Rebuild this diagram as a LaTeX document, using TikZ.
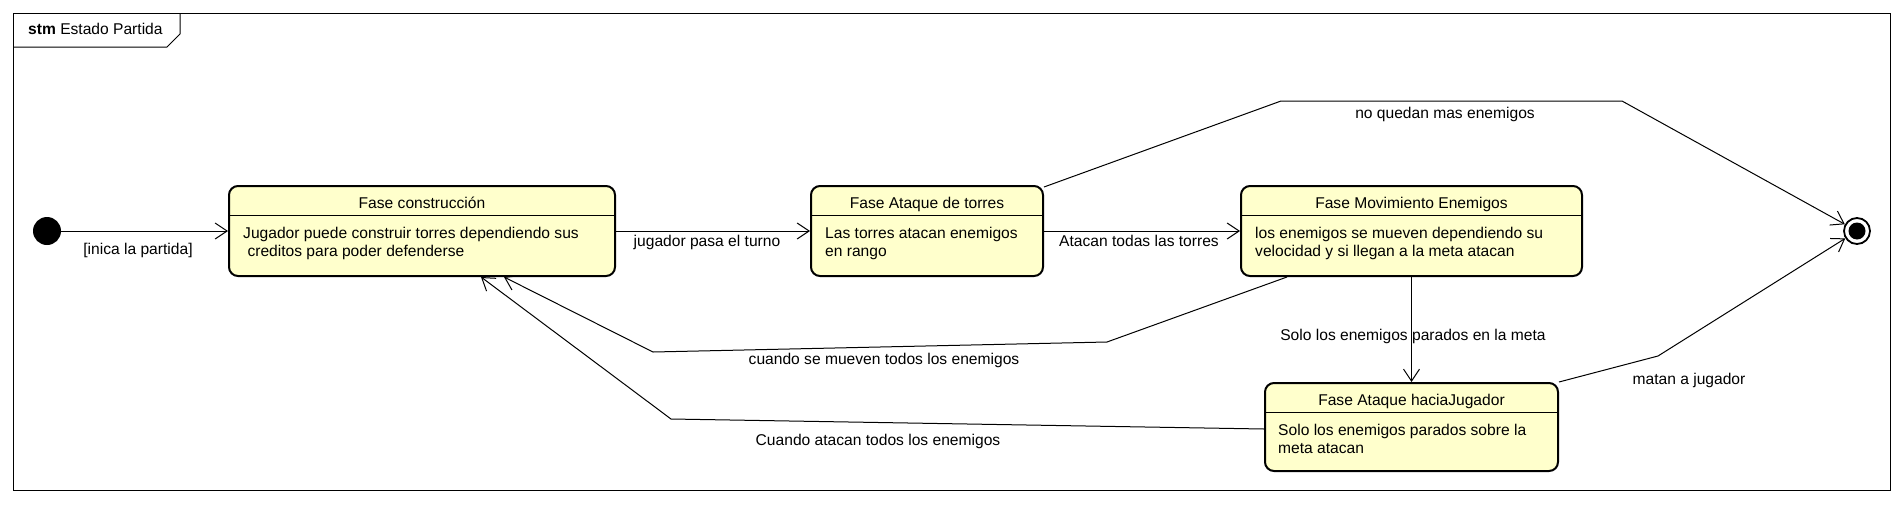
\documentclass[tikz,border=0pt]{standalone}
\usepackage{fontspec}
\setmainfont{Liberation Sans}
\usetikzlibrary{arrows.meta,calc}
\definecolor{statefill}{RGB}{255,255,204}
\begin{document}
\begin{tikzpicture}[x=1pt,y=-1pt,
  txt/.style={font=\fontsize{15.6}{18}\selectfont, inner sep=0pt, text height=11.2pt, text depth=3.3pt},
  statebox/.style={draw, line width=2pt, rounded corners=9pt, fill=statefill, inner sep=0pt},
  divider/.style={line width=1pt},
  conn/.style={line width=1pt, -{Straight Barb[length=12pt,width=16pt,line width=1pt]}},
  frameline/.style={line width=1pt}
]
\useasboundingbox (0,0) rectangle (1904,504);
\fill[white] (0,0) rectangle (1904,504);

% frame
\draw[frameline] (13,13) rectangle (1890,490);
\draw[frameline] (13,47) -- (167,47) -- (180,34) -- (180,13);
\node[txt, anchor=west] (tabtitle) at (28,31) {\textbf{stm} Estado Partida};

% initial and final states
\node[circle, fill=black, minimum size=28pt, inner sep=0pt] (ini) at (47,231) {};
\node[circle, draw, line width=1.8pt, fill=white, minimum size=26pt, inner sep=0pt] (fin) at (1857,231) {};
\node[circle, fill=black, minimum size=17pt, inner sep=0pt] (finin) at (1857,231) {};

% states
\node[statebox, minimum width=386pt, minimum height=90pt] (b1) at (422,231) {};
\draw[divider] ([yshift=-30pt]b1.north west) -- ([yshift=-30pt]b1.north east);
\node[txt] (b1t) at (422,205) {Fase construcción};
\node[txt, anchor=west] (b1a) at (243,235) {Jugador puede construir torres dependiendo sus};
\node[txt, anchor=west] (b1b) at (243,253) {\ creditos para poder defenderse};

\node[statebox, minimum width=232pt, minimum height=90pt] (b2) at (927,231) {};
\draw[divider] ([yshift=-30pt]b2.north west) -- ([yshift=-30pt]b2.north east);
\node[txt] (b2t) at (927,205) {Fase Ataque de torres};
\node[txt, anchor=west] (b2a) at (825,235) {Las torres atacan enemigos};
\node[txt, anchor=west] (b2b) at (825,253) {en rango};

\node[statebox, minimum width=341pt, minimum height=90pt] (b3) at (1411.5,231) {};
\draw[divider] ([yshift=-30pt]b3.north west) -- ([yshift=-30pt]b3.north east);
\node[txt] (b3t) at (1411.5,205) {Fase Movimiento Enemigos};
\node[txt, anchor=west] (b3a) at (1255,235) {los enemigos se mueven dependiendo su};
\node[txt, anchor=west] (b3b) at (1255,253) {velocidad y si llegan a la meta atacan};

\node[statebox, minimum width=293pt, minimum height=88pt] (b4) at (1411.5,427) {};
\draw[divider] ([yshift=-30pt]b4.north west) -- ([yshift=-30pt]b4.north east);
\node[txt] (b4t) at (1411.5,402) {Fase Ataque haciaJugador};
\node[txt, anchor=west] (b4a) at (1278,432) {Solo los enemigos parados sobre la};
\node[txt, anchor=west] (b4b) at (1278,450) {meta atacan};

% transitions
\draw[conn] (ini) -- (b1);
\node[txt] (l1) at (138,251) {[inica la partida]};

\draw[conn] (b1) -- (b2);
\node[txt] (l2) at (707,243) {jugador pasa el turno};

\draw[conn] (b2) -- (b3);
\node[txt] (l3) at (1139,243) {Atacan todas las torres};

\draw[conn] ([yshift=-2pt]b2.north east) -- (1281,101) -- (1622,101) -- (fin);
\node[txt] (l4) at (1445,115) {no quedan mas enemigos};

\draw[conn] ($(b3.south west)+(47,0)$) -- (1107,342) -- (653,352) -- ($(b1.south west)+(276,0)$);
\node[txt] (l5) at (884,361) {cuando se mueven todos los enemigos};

\draw[conn] ([yshift=-2pt]b4.west) -- (671,419) -- ($(b1.south west)+(253,0)$);
\node[txt] (l6) at (878,442) {Cuando atacan todos los enemigos};

\draw[conn] (b3) -- (b4);
\node[txt] (l7) at (1413,337) {Solo los enemigos parados en la meta};

\draw[conn] (b4.north east) -- (1658,356) -- (fin);
\node[txt] (l8) at (1689,381) {matan a jugador};
\end{tikzpicture}
\end{document}
